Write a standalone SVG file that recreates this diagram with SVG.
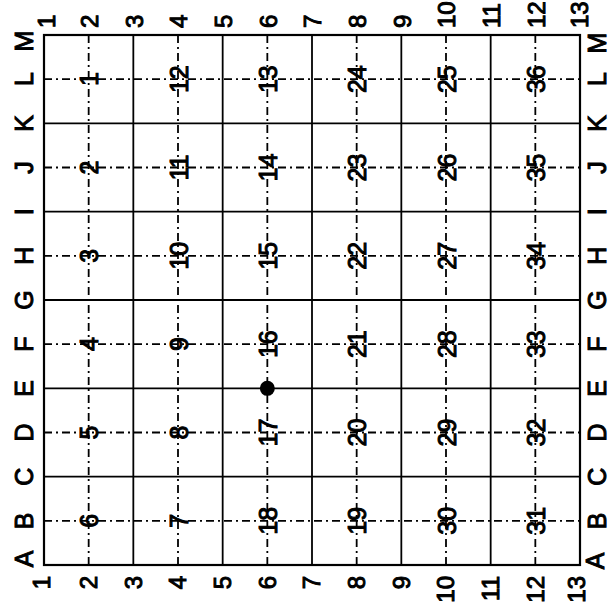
<svg xmlns="http://www.w3.org/2000/svg" width="610" height="613" viewBox="0 0 610 613">
<style>
.bg{fill:#fff}
.frame{fill:none;stroke:#000;stroke-width:2.2}
.solid{stroke:#000;stroke-width:1.8;fill:none}
.dash{stroke:#000;stroke-width:1.8;fill:none;stroke-dasharray:8 4 2 4}
text{font-family:"Liberation Sans",Arial,sans-serif;fill:#000;stroke:#000;stroke-width:1}
.let{font-size:25px;text-anchor:middle}
.top{font-size:24px;text-anchor:start}
.bot{font-size:24px;text-anchor:end}
.num{font-size:25px;text-anchor:middle}
</style>
<rect class="bg" x="0" y="0" width="610" height="613"/>
<g id="connectors">
  <g id="solid-lines">
    <line class="solid" x1="133.33" y1="35" x2="133.33" y2="565"/>
    <line class="solid" x1="222.67" y1="35" x2="222.67" y2="565"/>
    <line class="solid" x1="312" y1="35" x2="312" y2="565"/>
    <line class="solid" x1="401.33" y1="35" x2="401.33" y2="565"/>
    <line class="solid" x1="490.67" y1="35" x2="490.67" y2="565"/>
    <line class="solid" x1="44" y1="123.33" x2="580" y2="123.33"/>
    <line class="solid" x1="44" y1="211.67" x2="580" y2="211.67"/>
    <line class="solid" x1="44" y1="300" x2="580" y2="300"/>
    <line class="solid" x1="44" y1="388.33" x2="580" y2="388.33"/>
    <line class="solid" x1="44" y1="476.67" x2="580" y2="476.67"/>
  </g>
  <g id="dashed-lines">
    <line class="dash" x1="88.67" y1="35" x2="88.67" y2="565"/>
    <line class="dash" x1="178" y1="35" x2="178" y2="565"/>
    <line class="dash" x1="267.33" y1="35" x2="267.33" y2="565"/>
    <line class="dash" x1="356.67" y1="35" x2="356.67" y2="565"/>
    <line class="dash" x1="446" y1="35" x2="446" y2="565"/>
    <line class="dash" x1="535.33" y1="35" x2="535.33" y2="565"/>
    <line class="dash" x1="44" y1="79.17" x2="580" y2="79.17"/>
    <line class="dash" x1="44" y1="167.5" x2="580" y2="167.5"/>
    <line class="dash" x1="44" y1="255.83" x2="580" y2="255.83"/>
    <line class="dash" x1="44" y1="344.17" x2="580" y2="344.17"/>
    <line class="dash" x1="44" y1="432.5" x2="580" y2="432.5"/>
    <line class="dash" x1="44" y1="520.83" x2="580" y2="520.83"/>
  </g>
  <rect class="frame" x="44" y="35" width="536" height="530"/>
</g>
<g id="row-labels-left">
  <text class="let" dy="0.35em" transform="translate(24 41) rotate(-90)">M</text>
  <text class="let" dy="0.35em" transform="translate(24 79.17) rotate(-90)">L</text>
  <text class="let" dy="0.35em" transform="translate(24 123.33) rotate(-90)">K</text>
  <text class="let" dy="0.35em" transform="translate(24 167.5) rotate(-90)">J</text>
  <text class="let" dy="0.35em" transform="translate(24 211.67) rotate(-90)">I</text>
  <text class="let" dy="0.35em" transform="translate(24 255.83) rotate(-90)">H</text>
  <text class="let" dy="0.35em" transform="translate(24 300) rotate(-90)">G</text>
  <text class="let" dy="0.35em" transform="translate(24 344.17) rotate(-90)">F</text>
  <text class="let" dy="0.35em" transform="translate(24 388.33) rotate(-90)">E</text>
  <text class="let" dy="0.35em" transform="translate(24 432.5) rotate(-90)">D</text>
  <text class="let" dy="0.35em" transform="translate(24 476.67) rotate(-90)">C</text>
  <text class="let" dy="0.35em" transform="translate(24 520.83) rotate(-90)">B</text>
  <text class="let" dy="0.35em" transform="translate(24 559) rotate(-90)">A</text>
</g>
<g id="row-labels-right">
  <text class="let" dy="0.35em" transform="translate(597 43) rotate(-90)">M</text>
  <text class="let" dy="0.35em" transform="translate(597 79.17) rotate(-90)">L</text>
  <text class="let" dy="0.35em" transform="translate(597 123.33) rotate(-90)">K</text>
  <text class="let" dy="0.35em" transform="translate(597 167.5) rotate(-90)">J</text>
  <text class="let" dy="0.35em" transform="translate(597 211.67) rotate(-90)">I</text>
  <text class="let" dy="0.35em" transform="translate(597 255.83) rotate(-90)">H</text>
  <text class="let" dy="0.35em" transform="translate(597 300) rotate(-90)">G</text>
  <text class="let" dy="0.35em" transform="translate(597 344.17) rotate(-90)">F</text>
  <text class="let" dy="0.35em" transform="translate(597 388.33) rotate(-90)">E</text>
  <text class="let" dy="0.35em" transform="translate(597 432.5) rotate(-90)">D</text>
  <text class="let" dy="0.35em" transform="translate(597 476.67) rotate(-90)">C</text>
  <text class="let" dy="0.35em" transform="translate(597 520.83) rotate(-90)">B</text>
  <text class="let" dy="0.35em" transform="translate(595 561) rotate(-90)">A</text>
</g>
<g id="col-labels-top">
  <text class="top" dy="0.35em" transform="translate(47 28) rotate(-90)">1</text>
  <text class="top" dy="0.35em" transform="translate(89.67 28) rotate(-90)">2</text>
  <text class="top" dy="0.35em" transform="translate(134.33 28) rotate(-90)">3</text>
  <text class="top" dy="0.35em" transform="translate(179 28) rotate(-90)">4</text>
  <text class="top" dy="0.35em" transform="translate(223.67 28) rotate(-90)">5</text>
  <text class="top" dy="0.35em" transform="translate(268.33 28) rotate(-90)">6</text>
  <text class="top" dy="0.35em" transform="translate(313 28) rotate(-90)">7</text>
  <text class="top" dy="0.35em" transform="translate(357.67 28) rotate(-90)">8</text>
  <text class="top" dy="0.35em" transform="translate(402.33 28) rotate(-90)">9</text>
  <text class="top" dy="0.35em" transform="translate(447 28) rotate(-90)">10</text>
  <text class="top" dy="0.35em" transform="translate(491.67 28) rotate(-90)">11</text>
  <text class="top" dy="0.35em" transform="translate(536.33 28) rotate(-90)">12</text>
  <text class="top" dy="0.35em" transform="translate(580 28) rotate(-90)">13</text>
</g>
<g id="col-labels-bottom">
  <text class="bot" dy="0.35em" transform="translate(42 576) rotate(-90)">1</text>
  <text class="bot" dy="0.35em" transform="translate(88.67 576) rotate(-90)">2</text>
  <text class="bot" dy="0.35em" transform="translate(133.33 576) rotate(-90)">3</text>
  <text class="bot" dy="0.35em" transform="translate(178 576) rotate(-90)">4</text>
  <text class="bot" dy="0.35em" transform="translate(222.67 576) rotate(-90)">5</text>
  <text class="bot" dy="0.35em" transform="translate(267.33 576) rotate(-90)">6</text>
  <text class="bot" dy="0.35em" transform="translate(312 576) rotate(-90)">7</text>
  <text class="bot" dy="0.35em" transform="translate(356.67 576) rotate(-90)">8</text>
  <text class="bot" dy="0.35em" transform="translate(401.33 576) rotate(-90)">9</text>
  <text class="bot" dy="0.35em" transform="translate(446 576) rotate(-90)">10</text>
  <text class="bot" dy="0.35em" transform="translate(490.67 576) rotate(-90)">11</text>
  <text class="bot" dy="0.35em" transform="translate(535.33 576) rotate(-90)">12</text>
  <text class="bot" dy="0.35em" transform="translate(577 576) rotate(-90)">13</text>
</g>
<g id="cells">
  <g id="cell-1"><text class="num" dy="0.35em" transform="translate(89.67 79.17) rotate(-90)">1</text></g>
  <g id="cell-2"><text class="num" dy="0.35em" transform="translate(89.67 167.5) rotate(-90)">2</text></g>
  <g id="cell-3"><text class="num" dy="0.35em" transform="translate(89.67 255.83) rotate(-90)">3</text></g>
  <g id="cell-4"><text class="num" dy="0.35em" transform="translate(89.67 344.17) rotate(-90)">4</text></g>
  <g id="cell-5"><text class="num" dy="0.35em" transform="translate(89.67 432.5) rotate(-90)">5</text></g>
  <g id="cell-6"><text class="num" dy="0.35em" transform="translate(89.67 520.83) rotate(-90)">6</text></g>
  <g id="cell-7"><text class="num" dy="0.35em" transform="translate(179 520.83) rotate(-90)">7</text></g>
  <g id="cell-8"><text class="num" dy="0.35em" transform="translate(179 432.5) rotate(-90)">8</text></g>
  <g id="cell-9"><text class="num" dy="0.35em" transform="translate(179 344.17) rotate(-90)">9</text></g>
  <g id="cell-10"><text class="num" dy="0.35em" transform="translate(179 255.83) rotate(-90)">10</text></g>
  <g id="cell-11"><text class="num" dy="0.35em" transform="translate(179 167.5) rotate(-90)">11</text></g>
  <g id="cell-12"><text class="num" dy="0.35em" transform="translate(179 79.17) rotate(-90)">12</text></g>
  <g id="cell-13"><text class="num" dy="0.35em" transform="translate(268.33 79.17) rotate(-90)">13</text></g>
  <g id="cell-14"><text class="num" dy="0.35em" transform="translate(268.33 167.5) rotate(-90)">14</text></g>
  <g id="cell-15"><text class="num" dy="0.35em" transform="translate(268.33 255.83) rotate(-90)">15</text></g>
  <g id="cell-16"><text class="num" dy="0.35em" transform="translate(268.33 344.17) rotate(-90)">16</text></g>
  <g id="cell-17"><text class="num" dy="0.35em" transform="translate(268.33 432.5) rotate(-90)">17</text></g>
  <g id="cell-18"><text class="num" dy="0.35em" transform="translate(268.33 520.83) rotate(-90)">18</text></g>
  <g id="cell-19"><text class="num" dy="0.35em" transform="translate(357.67 520.83) rotate(-90)">19</text></g>
  <g id="cell-20"><text class="num" dy="0.35em" transform="translate(357.67 432.5) rotate(-90)">20</text></g>
  <g id="cell-21"><text class="num" dy="0.35em" transform="translate(357.67 344.17) rotate(-90)">21</text></g>
  <g id="cell-22"><text class="num" dy="0.35em" transform="translate(357.67 255.83) rotate(-90)">22</text></g>
  <g id="cell-23"><text class="num" dy="0.35em" transform="translate(357.67 167.5) rotate(-90)">23</text></g>
  <g id="cell-24"><text class="num" dy="0.35em" transform="translate(357.67 79.17) rotate(-90)">24</text></g>
  <g id="cell-25"><text class="num" dy="0.35em" transform="translate(447 79.17) rotate(-90)">25</text></g>
  <g id="cell-26"><text class="num" dy="0.35em" transform="translate(447 167.5) rotate(-90)">26</text></g>
  <g id="cell-27"><text class="num" dy="0.35em" transform="translate(447 255.83) rotate(-90)">27</text></g>
  <g id="cell-28"><text class="num" dy="0.35em" transform="translate(447 344.17) rotate(-90)">28</text></g>
  <g id="cell-29"><text class="num" dy="0.35em" transform="translate(447 432.5) rotate(-90)">29</text></g>
  <g id="cell-30"><text class="num" dy="0.35em" transform="translate(447 520.83) rotate(-90)">30</text></g>
  <g id="cell-31"><text class="num" dy="0.35em" transform="translate(536.33 520.83) rotate(-90)">31</text></g>
  <g id="cell-32"><text class="num" dy="0.35em" transform="translate(536.33 432.5) rotate(-90)">32</text></g>
  <g id="cell-33"><text class="num" dy="0.35em" transform="translate(536.33 344.17) rotate(-90)">33</text></g>
  <g id="cell-34"><text class="num" dy="0.35em" transform="translate(536.33 255.83) rotate(-90)">34</text></g>
  <g id="cell-35"><text class="num" dy="0.35em" transform="translate(536.33 167.5) rotate(-90)">35</text></g>
  <g id="cell-36"><text class="num" dy="0.35em" transform="translate(536.33 79.17) rotate(-90)">36</text></g>
</g>
<g id="marker-point">
  <circle cx="267.33" cy="388.33" r="7.5" fill="#000"/>
</g>
</svg>
